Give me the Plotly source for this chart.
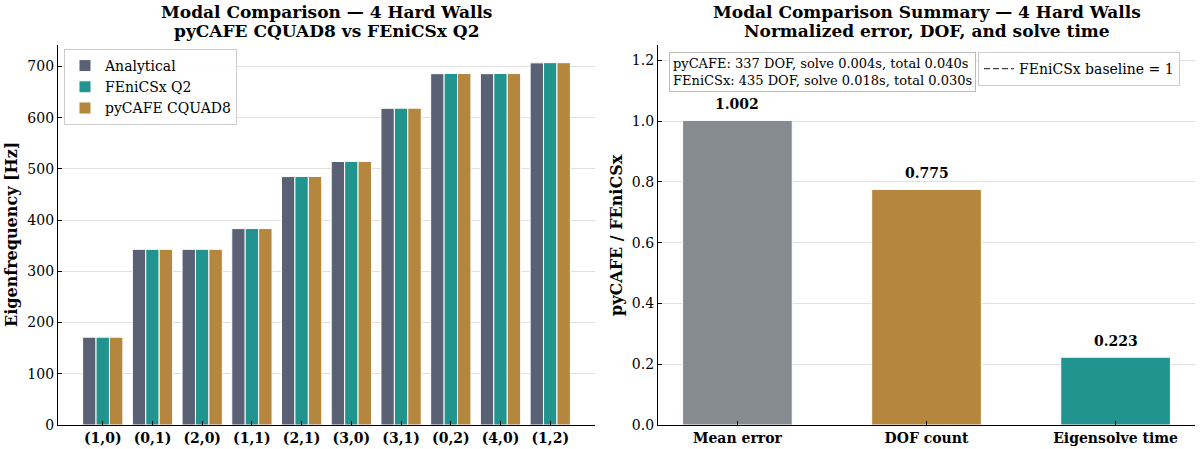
import plotly.graph_objects as go

# ---------------- data ----------------
modes = ["(1,0)", "(0,1)", "(2,0)", "(1,1)", "(2,1)", "(3,0)", "(3,1)", "(0,2)", "(4,0)", "(1,2)"]
analytical = [171.5, 343.0, 343.0, 383.5, 485.1, 514.5, 618.4, 686.0, 686.0, 707.1]
fenicsx_q2 = [171.5, 343.1, 343.1, 383.6, 485.3, 514.7, 618.7, 686.4, 686.4, 707.5]
pycafe_cquad8 = [171.5, 343.1, 343.1, 383.6, 485.3, 514.7, 618.7, 686.4, 686.4, 707.5]

summary_labels = ["Mean error", "DOF count", "Eigensolve time"]
summary_values = [1.002, 0.775, 0.223]
baseline_value = 1.0

info_text = ("pyCAFE: 337 DOF, solve 0.004s, total 0.040s<br>"
             "FEniCSx: 435 DOF, solve 0.018s, total 0.030s")

left_title = ["Modal Comparison — 4 Hard Walls", "pyCAFE CQUAD8 vs FEniCSx Q2"]
right_title = ["Modal Comparison Summary — 4 Hard Walls", "Normalized error, DOF, and solve time"]

# ---------------- style ----------------
C_ANA = "#5a6175"
C_FEN = "#21948f"
C_PYC = "#b5873e"
C_GRAY = "#868a91"
summary_colors = [C_GRAY, C_PYC, C_FEN]
FONT = "DejaVu Serif"
W, H = 1200, 449

fig = go.Figure()

for name, vals, col in [("Analytical", analytical, C_ANA),
                        ("FEniCSx Q2", fenicsx_q2, C_FEN),
                        ("pyCAFE CQUAD8", pycafe_cquad8, C_PYC)]:
    fig.add_trace(go.Bar(x=modes, y=vals, name=name, marker_color=col,
                         marker_line=dict(color="white", width=1),
                         xaxis="x", yaxis="y", legend="legend"))

fig.add_trace(go.Bar(x=summary_labels, y=summary_values, width=0.58,
                     marker_color=summary_colors,
                     marker_line=dict(color="white", width=1),
                     xaxis="x2", yaxis="y2", showlegend=False))

x2_range = [-0.42, 2.42]
fig.add_trace(go.Scatter(x=x2_range, y=[baseline_value, baseline_value], mode="lines",
                         line=dict(color="#444444", width=1.3, dash="6px,3px"),
                         name="FEniCSx baseline = 1", xaxis="x2", yaxis="y2",
                         legend="legend2", cliponaxis=False))

# value labels
for lab, v in zip(summary_labels, summary_values):
    fig.add_annotation(x=lab, y=v, xref="x2", yref="y2", text=f"<b>{v:.3f}</b>",
                       showarrow=False, yanchor="bottom", yshift=6,
                       font=dict(family=FONT, size=14, color="black"))

axis_common = dict(showline=True, linecolor="black", linewidth=1.3, mirror=False,
                   ticks="inside", ticklen=4, tickcolor="black", tickwidth=1,
                   zeroline=False, automargin=False)

ydom = [1 - 425 / H, 1 - 45 / H]
fig.update_layout(
    width=W, height=H,
    margin=dict(l=0, r=0, t=0, b=0, autoexpand=False),
    paper_bgcolor="white", plot_bgcolor="white",
    font=dict(family=FONT, size=14, color="black"),
    barmode="group", bargap=0.19, bargroupgap=0.0,
    xaxis=dict(domain=[58 / W, 595 / W], range=[-0.9, 9.9], showgrid=False,
               tickfont=dict(family=FONT, size=14, color="black", weight="bold"),
               anchor="y", **axis_common),
    yaxis=dict(domain=ydom, range=[0, 742], dtick=100, showgrid=True,
               gridcolor="#e0e0e0", gridwidth=1, anchor="x",
               tickfont=dict(family=FONT, size=14), **axis_common),
    xaxis2=dict(domain=[658 / W, 1195 / W], range=x2_range, showgrid=False,
                tickfont=dict(family=FONT, size=14, color="black", weight="bold"),
                anchor="y2", **axis_common),
    yaxis2=dict(domain=ydom, range=[0, 1.25], dtick=0.2, tickformat=".1f",
                showgrid=True, gridcolor="#e0e0e0", gridwidth=1, anchor="x2",
                tickfont=dict(family=FONT, size=14), **axis_common),
    legend=dict(x=64 / W, y=1 - 49 / H, xanchor="left", yanchor="top",
                bgcolor="rgba(255,255,255,0.9)", bordercolor="#cccccc", borderwidth=1,
                font=dict(family=FONT, size=14), tracegroupgap=2),
    legend2=dict(x=978 / W, y=1 - 52 / H, xanchor="left", yanchor="top",
                 bgcolor="rgba(255,255,255,0.9)", bordercolor="#cccccc", borderwidth=1,
                 font=dict(family=FONT, size=14)),
)

# titles (one annotation per line for matplotlib-like spacing)
for title, cx in [(left_title, (58 + 595) / 2), (right_title, (658 + 1195) / 2)]:
    for line, cy in zip(title, [12, 31]):
        fig.add_annotation(x=cx / W, y=1 - cy / H, xref="paper", yref="paper",
                           text=f"<b>{line}</b>", showarrow=False,
                           xanchor="center", yanchor="middle",
                           font=dict(family=FONT, size=17))
# axis titles
fig.add_annotation(x=11 / W, y=1 - 235 / H, xref="paper", yref="paper",
                   text="<b>Eigenfrequency [Hz]</b>", textangle=-90, showarrow=False,
                   xanchor="center", yanchor="middle", font=dict(family=FONT, size=16))
fig.add_annotation(x=616 / W, y=1 - 235 / H, xref="paper", yref="paper",
                   text="<b>pyCAFE / FEniCSx</b>", textangle=-90, showarrow=False,
                   xanchor="center", yanchor="middle", font=dict(family=FONT, size=16))
# info box
fig.add_annotation(x=669 / W, y=1 - 52 / H, xref="paper", yref="paper",
                   text=info_text, showarrow=False, xanchor="left", yanchor="top",
                   align="left", bgcolor="white", bordercolor="#bbbbbb", borderwidth=1,
                   borderpad=3, font=dict(family=FONT, size=13))

post = """
var h=document.documentElement, b=document.body;
h.style.margin='0'; h.style.padding='0'; h.style.overflow='hidden';
b.style.margin='0'; b.style.padding='0'; b.style.overflow='hidden';
"""
fig.write_html("out.html", config={"displayModeBar": False}, post_script=post)
